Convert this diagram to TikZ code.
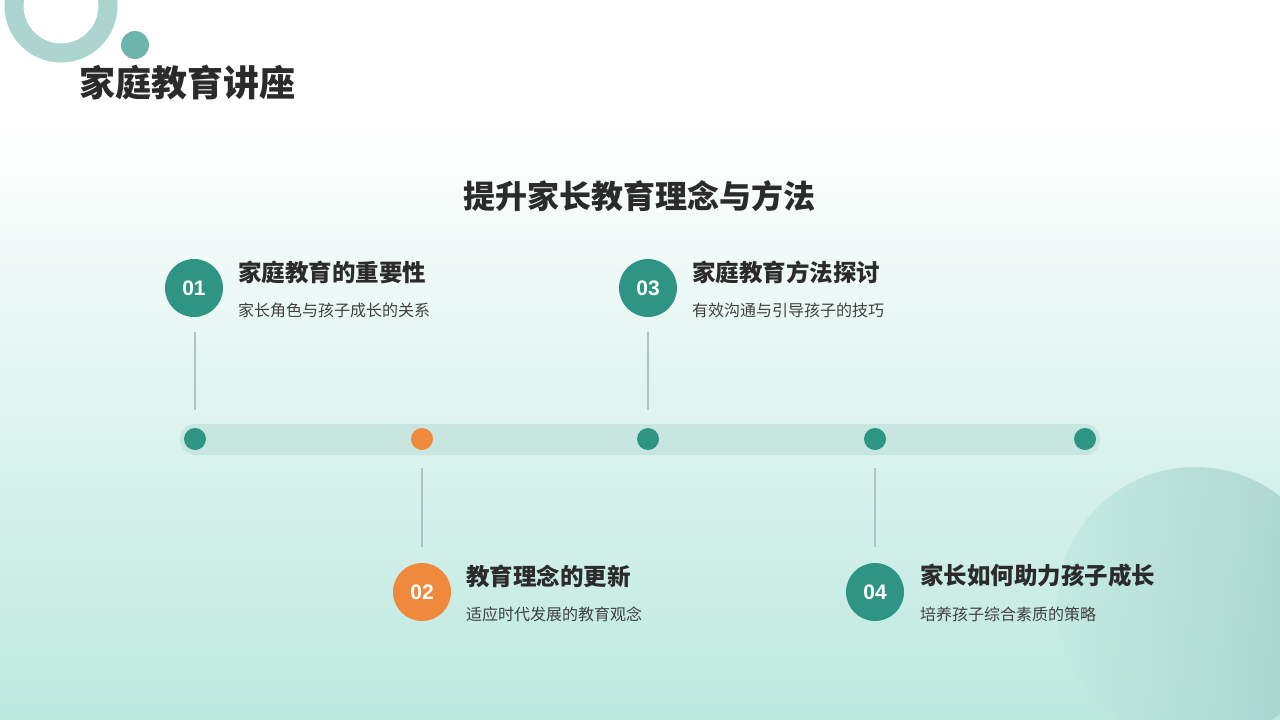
\documentclass[tikz,border=0pt]{standalone}
\usepackage{fontspec}
\setmainfont{Noto Sans CJK SC}
\newfontfamily\numfont{Liberation Sans}
\definecolor{teal1}{HTML}{2E9585}
\definecolor{org}{HTML}{EF8A3C}
\definecolor{bar}{HTML}{C6E6DF}
\definecolor{bgb}{HTML}{BCE8DE}
\definecolor{vl}{HTML}{AFC2C8}
\definecolor{txt}{HTML}{2B2B2B}
\begin{document}
\begin{tikzpicture}[x=1pt,y=-1pt,
  numc/.style={circle,minimum size=58pt,inner sep=0pt,text=white,font=\numfont\fontsize{21}{21}\selectfont\bfseries},
  dot/.style={circle,minimum size=22pt,inner sep=0pt,fill=teal1},
  head/.style={anchor=west,text=txt,font=\fontsize{23.5}{24}\selectfont\bfseries,inner sep=0pt},
  sub/.style={anchor=west,text=txt!90,font=\fontsize{16}{16}\selectfont,inner sep=0pt},
  vline/.style={draw=vl,line width=1.2pt}]
\useasboundingbox (0,0) rectangle (1280,720);
\fill[white] (0,0) rectangle (1280,120);
\shade[top color=white,bottom color=bgb] (0,120) rectangle (1280,720);
% decorations
\begin{scope}
\clip (0,0) rectangle (1280,720);
\draw[line width=19pt,teal1!40] (61,6) circle (47);
\fill[teal1!70] (135,45) circle (14);
\shade[left color=bgb!90!white,right color=teal1!45,opacity=0.85] (1195,605) circle (138);
\end{scope}
\node[anchor=west,text=txt,font=\fontsize{36}{36}\selectfont\bfseries,inner sep=0pt] (title) at (79,83) {家庭教育讲座};
\node[text=txt,font=\fontsize{32}{32}\selectfont\bfseries,inner sep=0pt] (st) at (639,196) {提升家长教育理念与方法};
% bar
\fill[bar,rounded corners=15pt] (180,424) rectangle (1100,455);
\node[dot] (d1) at (195,439) {};
\node[dot,fill=org] (d2) at (422,439) {};
\node[dot] (d3) at (648,439) {};
\node[dot] (d4) at (875,439) {};
\node[dot] (d5) at (1085,439) {};
\coordinate (a1) at (195,332); \coordinate (b1) at (195,410);
\coordinate (a2) at (422,468); \coordinate (b2) at (422,547);
\coordinate (a3) at (648,332); \coordinate (b3) at (648,410);
\coordinate (a4) at (875,468); \coordinate (b4) at (875,547);
\draw[vline] (a1)--(b1); \draw[vline] (a2)--(b2);
\draw[vline] (a3)--(b3); \draw[vline] (a4)--(b4);
\node[numc,fill=teal1] (n1) at (194,288) {01};
\node[numc,fill=teal1] (n3) at (648,288) {03};
\node[numc,fill=org] (n2) at (422,592) {02};
\node[numc,fill=teal1] (n4) at (875,592) {04};
\node[head] (h1) at (238,272) {家庭教育的重要性};
\node[sub] (s1) at (238,310) {家长角色与孩子成长的关系};
\node[head] (h3) at (692,272) {家庭教育方法探讨};
\node[sub] (s3) at (692,310) {有效沟通与引导孩子的技巧};
\node[head] (h2) at (466,576) {教育理念的更新};
\node[sub] (s2) at (466,614) {适应时代发展的教育观念};
\node[head] (h4) at (920,576) {家长如何助力孩子成长};
\node[sub] (s4) at (920,614) {培养孩子综合素质的策略};
\end{tikzpicture}
\end{document}
